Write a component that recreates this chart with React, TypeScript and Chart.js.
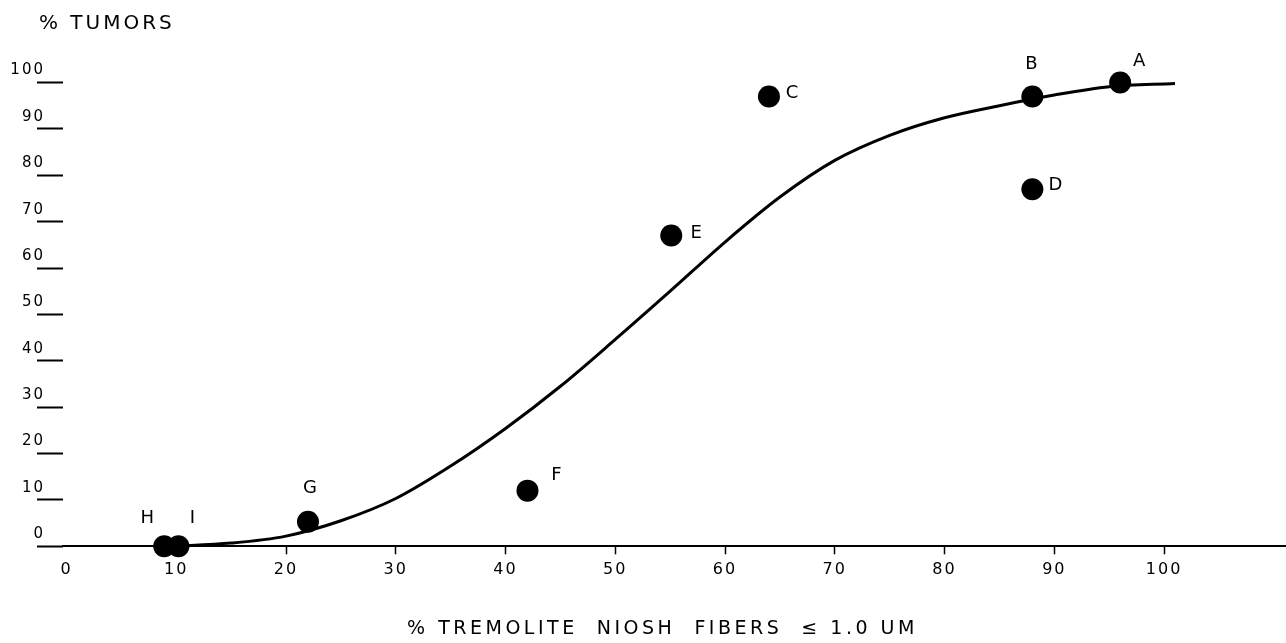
import React, { useEffect, useRef } from "react";
import { Chart, registerables } from "chart.js";

Chart.register(...registerables);

// ---- Data ----
const pointLabels = ["A", "B", "C", "D", "E", "F", "G", "H", "I"];
const pointX = [96, 88, 64, 88, 55.1, 42, 22, 8.9, 10.2];
const pointY = [100, 97, 97, 77, 67, 12, 5.3, 0, 0];

const curveX = [9.5, 15, 20, 25, 30, 35, 40, 45, 50, 55, 60, 65, 70, 75, 80, 85, 90, 95, 101];
const curveY = [0, 0.7, 2.2, 5.5, 10.3, 17.3, 25.4, 34.5, 44.6, 55.0, 65.6, 75.3, 83.2, 88.6, 92.4, 95.0, 97.3, 99.1, 99.8];

const xTickValues = [0, 10, 20, 30, 40, 50, 60, 70, 80, 90, 100];
const yTickValues = [0, 10, 20, 30, 40, 50, 60, 70, 80, 90, 100];

const xAxisTitle = "% TREMOLITE  NIOSH  FIBERS  ≤ 1.0 UM";
const yAxisTitle = "% TUMORS";

// ---- Styles (label offsets in px relative to each dot) ----
const labelOffsets: Record<string, [number, number]> = {
  A: [20, -21],
  B: [0, -32],
  C: [24, -3],
  D: [24, -4],
  E: [26, -2],
  F: [30, -15],
  G: [3, -33],
  H: [-16, -28],
  I: [15, -28],
};

const FONT = '"DejaVu Sans", sans-serif';

const spacingPlugin = {
  id: "spacing",
  beforeUpdate(chart: any) {
    chart.ctx.letterSpacing = "2px";
  },
  beforeDraw(chart: any) {
    chart.ctx.letterSpacing = "2px";
  },
};

const pointLabelPlugin = {
  id: "pointLabelPlugin",
  afterDatasetsDraw(chart: any) {
    const meta = chart.getDatasetMeta(0);
    const ctx = chart.ctx;
    ctx.save();
    ctx.font = `18px ${FONT}`;
    ctx.fillStyle = "#000";
    ctx.textAlign = "center";
    ctx.textBaseline = "middle";
    meta.data.forEach((el: any, i: number) => {
      const lab = pointLabels[i];
      const [dx, dy] = labelOffsets[lab];
      ctx.fillText(lab, el.x + dx, el.y + dy);
    });
    ctx.restore();
  },
};

const titlesPlugin = {
  id: "titlesPlugin",
  afterDraw(chart: any) {
    const ctx = chart.ctx;
    ctx.save();
    ctx.fillStyle = "#000";
    ctx.textBaseline = "middle";
    // y axis title, top-left
    ctx.letterSpacing = "3px";
    ctx.font = `20px ${FONT}`;
    ctx.textAlign = "left";
    ctx.fillText(yAxisTitle, 39, 24);
    // x axis title, under the axis
    ctx.letterSpacing = "3.5px";
    ctx.font = `19px ${FONT}`;
    ctx.textAlign = "center";
    const xs = chart.scales.x;
    const cx = xs.getPixelForValue(54.3);
    ctx.fillText(xAxisTitle, cx, 629);
    ctx.restore();
  },
};

export default function App() {
  const canvasRef = useRef<HTMLCanvasElement | null>(null);

  useEffect(() => {
    if (!canvasRef.current) return;
    Chart.defaults.font.family = FONT;
    Chart.defaults.color = "#000";

    const chart = new Chart(canvasRef.current, {
      type: "scatter",
      data: {
        datasets: [
          {
            type: "scatter",
            label: "Samples",
            data: pointX.map((x, i) => ({ x, y: pointY[i] })),
            pointRadius: 11,
            pointHoverRadius: 11,
            pointBackgroundColor: "#000",
            pointBorderColor: "#000",
            pointBorderWidth: 0,
            clip: false,
          } as any,
          {
            type: "line",
            label: "Fit",
            data: curveX.map((x, i) => ({ x, y: curveY[i] })),
            borderColor: "#000",
            borderWidth: 3,
            pointRadius: 0,
            fill: false,
            cubicInterpolationMode: "monotone",
            clip: false,
          } as any,
        ],
      },
      options: {
        responsive: false,
        animation: false,
        layout: { autoPadding: false, padding: { top: 60, left: 0, right: 0, bottom: 0 } },
        plugins: {
          legend: { display: false },
          tooltip: { enabled: false },
          title: { display: false },
        },
        scales: {
          x: {
            type: "linear",
            min: -0.32,
            max: 111.11,
            afterBuildTicks: (s: any) => {
              s.ticks = xTickValues.map((v) => ({ value: v }));
            },
            afterFit: (s: any) => {
              s.height = 96.7;
            },
            grid: {
              drawOnChartArea: false,
              drawTicks: true,
              tickLength: 8,
              tickWidth: 1.5,
              tickColor: (c: any) =>
                c.tick && c.tick.value <= 10 ? "rgba(0,0,0,0)" : "#000",
            },
            border: { display: true, color: "#000", width: 2 },
            ticks: {
              font: { size: 16 },
              color: "#000",
              padding: 6,
              maxRotation: 0,
              autoSkip: false,
            },
            title: { display: false },
          },
          y: {
            type: "linear",
            min: 0,
            max: 104.85,
            afterBuildTicks: (s: any) => {
              s.ticks = yTickValues.map((v) => ({ value: v }));
            },
            afterFit: (s: any) => {
              s.width = 63;
            },
            grid: {
              drawOnChartArea: false,
              drawTicks: true,
              tickLength: 26,
              tickWidth: 2,
              tickColor: "#000",
            },
            border: { display: false },
            ticks: {
              font: { size: 15 },
              color: "#000",
              padding: -8,
              labelOffset: -12,
              autoSkip: false,
            },
          },
        },
      } as any,
      plugins: [spacingPlugin, pointLabelPlugin, titlesPlugin],
    });

    return () => chart.destroy();
  }, []);

  return (
    <canvas
      ref={canvasRef}
      width={1286}
      height={643}
      style={{ position: "absolute", left: 0, top: 0, width: "1286px", height: "643px" }}
    />
  );
}
